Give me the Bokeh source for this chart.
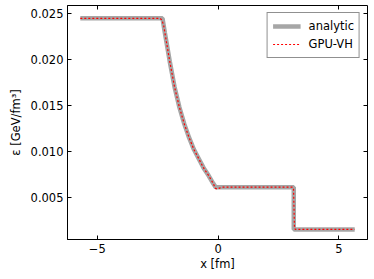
from bokeh.plotting import figure
from bokeh.models import Range1d, LinearAxis, FixedTicker, PrintfTickFormatter, Legend, LegendItem
from bokeh.embed import file_html
from bokeh.resources import INLINE

# data
x_analytic = [-5.7, -2.3, -2.2, -2.0, -1.8, -1.6, -1.4, -1.2, -1.0, -0.8, -0.6, -0.4, -0.2, -0.1, 3.13, 3.13, 5.65]
eps_analytic = [0.0245, 0.0245, 0.0229, 0.0198, 0.0170, 0.0148, 0.0130, 0.0115, 0.0102, 0.0092, 0.0082, 0.0074, 0.0065, 0.0061, 0.0061, 0.0015, 0.0015]

x_gpu = [-5.7, -2.4, -2.32, -2.25, -2.2, -2.0, -1.8, -1.6, -1.4, -1.2, -1.0, -0.8, -0.6, -0.4, -0.2, -0.12, -0.05, 0.18, 3.08, 3.12, 3.16, 3.2, 5.65]
eps_gpu = [0.0245, 0.0245, 0.0243, 0.0237, 0.0229, 0.0198, 0.0170, 0.0148, 0.0130, 0.0115, 0.0102, 0.0092, 0.0082, 0.0074, 0.0065, 0.0060, 0.0059, 0.0061, 0.0061, 0.0060, 0.0016, 0.0015, 0.0015]

x_ticks = [-5, 0, 5]
x_tick_labels = {-5: "\u22125", 0: "0", 5: "5"}
y_ticks = [0.005, 0.010, 0.015, 0.020, 0.025]

FONT = "DejaVu Sans"
FS = "11.5px"

p = figure(width=374, height=279, output_backend="svg", toolbar_location=None,
           x_range=Range1d(-6.23, 6.18), y_range=Range1d(0.00040, 0.02590),
           min_border_left=67, min_border_right=7, min_border_top=5, min_border_bottom=40)
p.background_fill_color = "white"
p.border_fill_color = "white"
p.outline_line_color = "black"
p.outline_line_width = 1
p.grid.visible = False

r1 = p.line(x_analytic, eps_analytic, line_color="#a6a6a6", line_width=4.5)
r2 = p.line(x_gpu, eps_gpu, line_color="red", line_width=1.2, line_dash="2 2")

def style_axis(ax, labels=True):
    ax.major_tick_in = 4
    ax.major_tick_out = 0
    ax.minor_tick_in = 0
    ax.minor_tick_out = 0
    ax.axis_line_color = "black"
    ax.major_tick_line_color = "black"
    ax.major_label_text_font = FONT
    ax.major_label_text_font_size = FS if labels else "1px"
    ax.major_label_text_color = "black" if labels else None
    ax.major_label_standoff = 4 if labels else 0
    ax.axis_label_text_font = FONT
    ax.axis_label_text_font_size = FS
    ax.axis_label_text_font_style = "normal"
    ax.axis_label_text_color = "black"

xa = p.xaxis[0]
xa.ticker = FixedTicker(ticks=x_ticks)
xa.major_label_overrides = x_tick_labels
xa.axis_label = "x [fm]"
style_axis(xa)
xa.axis_label_standoff = 1

ya = p.yaxis[0]
ya.ticker = FixedTicker(ticks=y_ticks)
ya.formatter = PrintfTickFormatter(format="%.3f")
ya.axis_label = "\u03b5 [GeV/fm\u00b3]"
style_axis(ya)
ya.axis_label_standoff = 5

top = LinearAxis(ticker=FixedTicker(ticks=x_ticks))
style_axis(top, labels=False)
top.axis_line_color = None
p.add_layout(top, "above")

right = LinearAxis(ticker=FixedTicker(ticks=y_ticks))
style_axis(right, labels=False)
right.axis_line_color = None
p.add_layout(right, "right")

legend = Legend(items=[LegendItem(label="analytic", renderers=[r1]),
                       LegendItem(label="GPU-VH", renderers=[r2])],
                location="top_right")
legend.label_text_font = FONT
legend.label_text_font_size = FS
legend.label_text_color = "black"
legend.glyph_width = 28
legend.glyph_height = 16
legend.label_height = 16
legend.label_standoff = 8
legend.spacing = 2
legend.padding = 5
legend.margin = 7
legend.border_line_color = "#222222"
legend.border_line_width = 1
legend.background_fill_alpha = 1
p.add_layout(legend)

open("out.html", "w").write(file_html(p, INLINE))
